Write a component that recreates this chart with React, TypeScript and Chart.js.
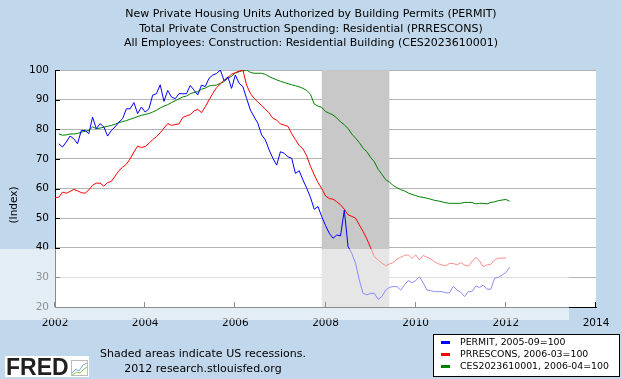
import { useEffect, useRef } from "react";
import { Chart, registerables } from "chart.js";

Chart.register(...registerables);

const TITLE_LINES = [
  "New Private Housing Units Authorized by Building Permits (PERMIT)",
  "Total Private Construction Spending: Residential (PRRESCONS)",
  "All Employees: Construction: Residential Building (CES2023610001)",
];
const Y_TITLE = "(Index)";
const X_MIN = 2002;
const X_MAX = 2014;
const X_STEP = 2;
const Y_MIN = 20;
const Y_MAX = 100;
const Y_STEP = 10;

const RECESSION = ["2007-12", "2009-06"];

const PERMIT_START = "2002-02";
const PERMIT = [
  75.1, 74.0, 75.7, 77.7, 76.8, 75.1, 79.6, 79.6, 78.5, 84.1,
  80.2, 81.9, 80.8, 77.7, 79.6, 80.8, 82.4, 83.6, 86.9, 86.9,
  89.0, 85.3, 87.5, 85.8, 86.9, 91.5, 92.0, 95.0, 89.4, 93.1,
  90.9, 90.3, 92.0, 92.0, 92.0, 94.8, 93.2, 91.6, 94.9, 94.4,
  97.2, 98.3, 98.8, 100.0, 96.4, 97.7, 93.8, 98.3, 95.5, 94.4,
  90.4, 86.5, 84.2, 82.0, 78.1, 76.4, 73.0, 70.2, 67.9, 72.4,
  71.9, 70.7, 70.2, 65.1, 66.0, 62.9, 60.1, 57.0, 53.0, 53.9,
  50.5, 47.5, 44.9, 43.2, 44.3, 44.0, 52.7, 40.4, 38.1, 34.8,
  29.1, 24.6, 24.1, 24.6, 24.6, 22.6, 23.5, 25.7, 26.6, 26.9,
  26.9, 25.7, 27.4, 28.9, 28.2, 28.9, 30.2, 28.2, 25.7, 25.5,
  25.2, 25.2, 25.2, 24.8, 24.8, 27.0, 25.7, 25.0, 23.5, 25.2,
  25.2, 27.1, 26.6, 27.4, 26.0, 26.0, 29.7, 30.0, 30.8, 31.6, 33.4,
];

const PRRESCONS_START = "2002-01";
const PRRESCONS = [
  57.0, 57.0, 58.8, 58.4, 59.0, 59.7, 59.2, 58.6, 58.4, 59.5,
  61.1, 61.8, 61.8, 60.8, 62.0, 62.4, 64.2, 66.0, 67.2, 68.2,
  70.0, 72.3, 74.3, 73.8, 74.2, 75.2, 76.5, 77.5, 78.8, 80.4,
  81.9, 81.3, 81.6, 81.8, 84.0, 84.5, 84.9, 86.2, 86.7, 85.6,
  87.6, 89.9, 92.1, 94.0, 95.3, 96.5, 97.4, 98.6, 99.1, 99.6,
  100.0, 94.9, 92.1, 90.4, 89.2, 88.0, 86.8, 85.5, 83.7, 83.1,
  81.8, 81.4, 81.0, 78.5, 76.5, 74.5, 73.4, 71.0, 67.5, 64.6,
  62.0, 60.0, 57.5, 56.6, 56.4, 55.5, 54.5, 53.0, 51.1, 50.6,
  50.0, 47.7, 45.5, 43.0, 40.0, 37.0, 35.9, 34.8, 33.9, 34.5,
  35.0, 36.1, 36.8, 37.4, 37.6, 36.4, 37.6, 35.9, 37.4, 36.8,
  36.2, 35.3, 34.6, 34.2, 33.9, 34.7, 34.7, 34.2, 35.0, 34.2,
  33.8, 35.3, 36.8, 35.5, 33.6, 34.2, 34.4, 35.9, 36.5, 36.5, 36.5,
];

const CES_START = "2002-02";
const CES = [
  78.4, 78.0, 78.1, 78.4, 78.4, 78.6, 79.0, 79.3, 79.6, 80.8,
  80.2, 80.4, 80.7, 81.0, 81.3, 81.7, 82.2, 82.6, 82.9, 83.4,
  83.8, 84.3, 84.7, 85.0, 85.3, 85.8, 86.4, 87.2, 87.8, 88.3,
  89.0, 89.6, 90.3, 90.9, 91.2, 92.0, 92.4, 92.7, 93.5, 93.9,
  94.6, 94.8, 94.9, 95.5, 96.1, 97.2, 97.9, 99.0, 99.4, 99.8,
  100.0, 99.2, 98.9, 98.9, 98.9, 98.5, 97.8, 97.2, 96.7, 96.2,
  95.8, 95.4, 95.0, 94.7, 94.3, 93.8, 93.1, 91.8, 88.5, 87.8,
  87.4, 86.0, 85.4, 84.8, 83.8, 82.5, 81.5, 80.3, 78.4, 77.0,
  75.5, 73.6, 72.4, 70.5, 69.0, 66.5, 64.8, 63.0, 62.2, 61.0,
  60.3, 59.6, 59.2, 58.5, 58.0, 57.6, 57.2, 57.0, 56.7, 56.4,
  56.0, 55.8, 55.5, 55.2, 55.0, 55.0, 55.0, 55.0, 55.3, 55.3,
  55.3, 54.8, 55.0, 55.0, 54.8, 55.3, 55.5, 55.9, 56.1, 56.3, 55.7,
];

const SERIES_LABELS = [
  "PERMIT, 2005-09=100",
  "PRRESCONS, 2006-03=100",
  "CES2023610001, 2006-04=100",
];
const SERIES_COLORS = ["#0000FF", "#FF0000", "#007F00"];
const NOTE_LINES = ["Shaded areas indicate US recessions.", "2012 research.stlouisfed.org"];
const LOGO_TEXT = "FRED";

const FONT = "'DejaVu Sans', Verdana, sans-serif";
const BG = "#C1D7EB";

function ym(s: string): number {
  const [y, m] = s.split("-").map(Number);
  return y + (m - 1) / 12;
}
function toPoints(start: string, vals: number[]) {
  const s = ym(start);
  return vals.map((v, i) => ({ x: s + i / 12, y: v }));
}

export default function App() {
  const ref = useRef<HTMLCanvasElement>(null);

  useEffect(() => {
    document.body.style.margin = "0";
    const canvas = ref.current;
    if (!canvas) return;

    const decor = {
      id: "decor",
      beforeDraw(chart: any) {
        const { ctx, chartArea: a } = chart;
        ctx.save();
        ctx.fillStyle = BG;
        ctx.fillRect(0, 0, chart.width, chart.height);
        ctx.fillStyle = "#FFFFFF";
        ctx.fillRect(a.left, a.top, a.right - a.left, a.bottom - a.top);
        ctx.restore();
      },
      beforeDatasetsDraw(chart: any) {
        const { ctx, chartArea: a, scales } = chart;
        const x0 = scales.x.getPixelForValue(ym(RECESSION[0]));
        const x1 = scales.x.getPixelForValue(ym(RECESSION[1]));
        ctx.save();
        ctx.fillStyle = "#C8C8C8";
        ctx.fillRect(x0, a.top, x1 - x0, a.bottom - a.top);
        ctx.restore();
      },
      afterDatasetsDraw(chart: any) {
        const { ctx, chartArea: a, scales } = chart;
        ctx.save();
        ctx.strokeStyle = "#000";
        ctx.lineWidth = 1;
        ctx.beginPath();
        for (let v = Y_MIN; v <= Y_MAX; v += Y_STEP) {
          const y = Math.round(scales.y.getPixelForValue(v)) + 0.5;
          ctx.moveTo(a.left, y);
          ctx.lineTo(a.left + 5, y);
        }
        for (let v = X_MIN; v <= X_MAX; v += X_STEP) {
          const x = Math.round(scales.x.getPixelForValue(v)) - 0.5;
          ctx.moveTo(x, a.bottom);
          ctx.lineTo(x, a.bottom - 5);
        }
        ctx.stroke();
        ctx.restore();
      },
      afterDraw(chart: any) {
        const { ctx } = chart;
        ctx.save();
        // titles
        ctx.fillStyle = "#000";
        ctx.font = `11px ${FONT}`;
        ctx.textAlign = "center";
        ctx.textBaseline = "middle";
        TITLE_LINES.forEach((t, i) => ctx.fillText(t, 311, 14.5 + i * 14.5));
        // y title
        ctx.save();
        ctx.translate(14, 205);
        ctx.rotate(-Math.PI / 2);
        ctx.font = `10.5px ${FONT}`;
        ctx.fillText(Y_TITLE, 0, 0);
        ctx.restore();
        // note
        ctx.font = `11px ${FONT}`;
        ctx.fillText(NOTE_LINES[0], 203, 354);
        ctx.fillText(NOTE_LINES[1], 203, 369);
        // legend
        ctx.fillStyle = "#FFFFFF";
        ctx.fillRect(433, 334, 187, 43);
        ctx.strokeStyle = "#000";
        ctx.lineWidth = 1;
        ctx.strokeRect(433.5, 334.5, 186, 42);
        ctx.font = `9.4px ${FONT}`;
        ctx.textAlign = "left";
        SERIES_LABELS.forEach((t, i) => {
          const y = 342.5 + i * 12;
          ctx.fillStyle = SERIES_COLORS[i];
          ctx.fillRect(441, y - 1.5, 9, 3);
          ctx.fillStyle = "#000";
          ctx.fillText(t, 460, y);
        });
        // FRED logo
        ctx.fillStyle = "#FFFFFF";
        ctx.fillRect(5, 356, 84, 21);
        ctx.fillStyle = "#231F20";
        ctx.font = `bold 23px 'Liberation Sans', Arial, sans-serif`;
        ctx.textBaseline = "alphabetic";
        ctx.fillText(LOGO_TEXT, 6, 375);
        ctx.strokeStyle = "#BBBBBB";
        ctx.strokeRect(71.5, 360.5, 16, 15);
        ctx.strokeStyle = "#7FA8D8";
        ctx.beginPath();
        ctx.moveTo(72, 373); ctx.lineTo(76, 369); ctx.lineTo(79, 371); ctx.lineTo(83, 365); ctx.lineTo(87, 363);
        ctx.stroke();
        ctx.strokeStyle = "#8FBF60";
        ctx.beginPath();
        ctx.moveTo(72, 375); ctx.lineTo(77, 372); ctx.lineTo(80, 373); ctx.lineTo(84, 369); ctx.lineTo(87, 367);
        ctx.stroke();
        // light band overlay seen in the reference
        ctx.fillStyle = "rgba(255,255,255,0.55)";
        ctx.fillRect(0, 249, 569, 71);
        ctx.restore();
      },
    };

    const chart = new Chart(canvas, {
      type: "line",
      data: {
        datasets: [
          { label: SERIES_LABELS[0], data: toPoints(PERMIT_START, PERMIT), borderColor: SERIES_COLORS[0] },
          { label: SERIES_LABELS[1], data: toPoints(PRRESCONS_START, PRRESCONS), borderColor: SERIES_COLORS[1] },
          { label: SERIES_LABELS[2], data: toPoints(CES_START, CES), borderColor: SERIES_COLORS[2] },
        ].map((d) => ({ ...d, borderWidth: 1, pointRadius: 0, fill: false, tension: 0 })),
      },
      options: {
        responsive: false,
        animation: false,
        devicePixelRatio: 1,
        layout: { padding: { top: 70, left: 8, right: 26, bottom: 0 } },
        plugins: { legend: { display: false }, tooltip: { enabled: false }, title: { display: false } },
        scales: {
          x: {
            type: "linear",
            min: X_MIN,
            max: X_MAX,
            ticks: {
              stepSize: X_STEP,
              autoSkip: false,
              maxRotation: 0,
              color: "#000",
              padding: 2,
              font: { family: FONT, size: 10.5 },
              callback: (v: any) => String(v),
            },
            grid: { display: false },
            border: { display: true, color: "#000", width: 1 },
            afterFit: (s: any) => { s.height = 72; },
          },
          y: {
            min: Y_MIN,
            max: Y_MAX,
            ticks: {
              stepSize: Y_STEP,
              color: "#000",
              padding: 6,
              font: { family: FONT, size: 10.5 },
            },
            grid: { color: "#B4B4B4", drawTicks: false, lineWidth: 1 },
            border: { display: true, color: "#000", width: 1 },
            afterFit: (s: any) => { s.width = 47; },
          },
        },
      },
      plugins: [decor],
    } as any);

    return () => chart.destroy();
  }, []);

  return (
    <div style={{ width: 622, height: 379 }}>
      <canvas ref={ref} width={622} height={379} style={{ display: "block" }} />
    </div>
  );
}
